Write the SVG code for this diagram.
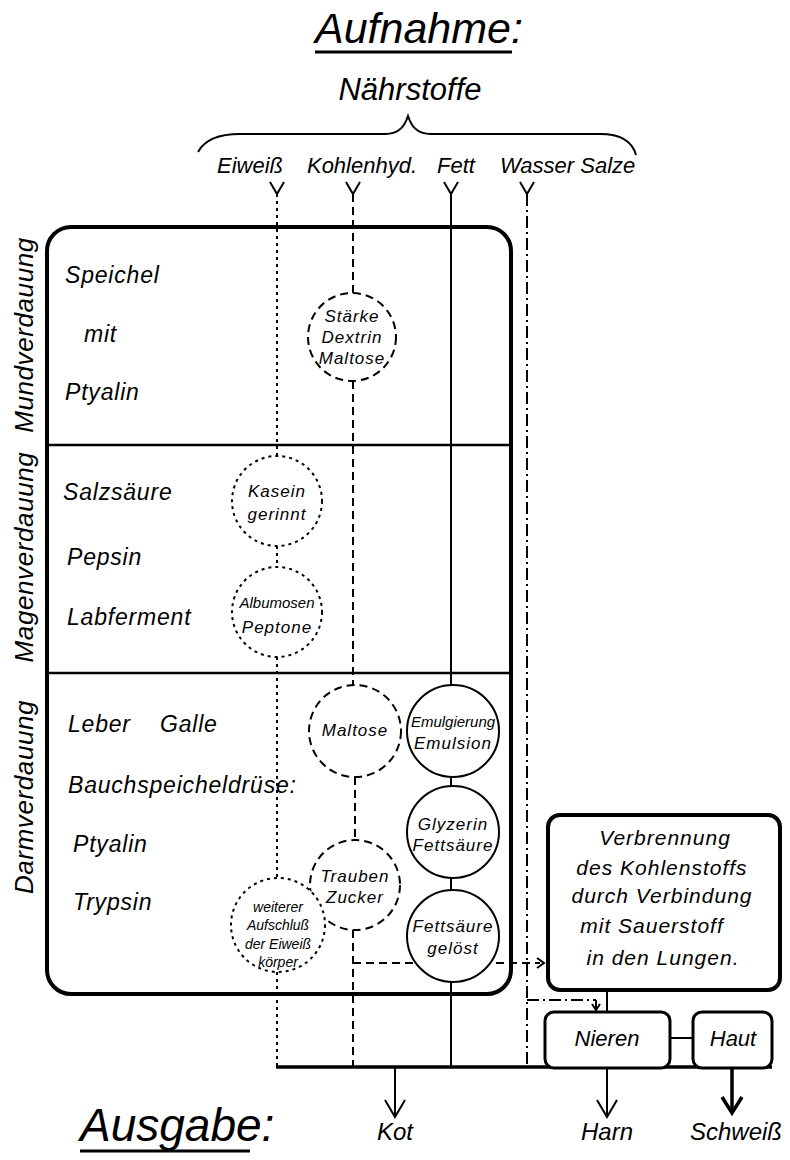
<svg xmlns="http://www.w3.org/2000/svg" width="790" height="1160" viewBox="0 0 790 1160">
<style>
text{font-family:"Liberation Sans",Arial,sans-serif;font-style:italic;fill:#000}
.h1{font-size:43px}
.h2{font-size:31px}
.lb{font-size:22px}
.lo{font-size:24px}
.lt{font-size:23px;letter-spacing:0.8px}
.rot{font-size:26px;letter-spacing:0.6px}
.c{font-size:17px;text-anchor:middle;letter-spacing:1px}
.cn{font-size:15px;text-anchor:middle}
.cs{font-size:14px;text-anchor:middle}
.bx{font-size:21px;text-anchor:middle;letter-spacing:1px}
.m{text-anchor:middle}
.thin{fill:none;stroke:#000;stroke-width:2}
.thick{fill:none;stroke:#000;stroke-width:4}
.dot{fill:none;stroke:#000;stroke-width:2;stroke-dasharray:3 4}
.dash{fill:none;stroke:#000;stroke-width:2;stroke-dasharray:8 5}
.dd{fill:none;stroke:#000;stroke-width:2;stroke-dasharray:12 4 2 4}
.cdot{fill:#fff;stroke:#000;stroke-width:2;stroke-dasharray:3 4}
.cdash{fill:#fff;stroke:#000;stroke-width:2;stroke-dasharray:8 5}
.csol{fill:#fff;stroke:#000;stroke-width:2}
</style>
<rect width="790" height="1160" fill="#fff"/>

<g id="title">
<text class="h1" x="315" y="43">Aufnahme:</text>
<line x1="315" y1="52" x2="512" y2="52" stroke="#000" stroke-width="3"/>
<text class="h2 m" x="410" y="100">Nährstoffe</text>
<path class="thin" stroke-width="2.5" d="M198,152 C205,139 220,134 240,134 L385,134 C400,134 405,125 408,116 C411,125 416,134 431,134 L600,134 C620,134 632,140 636,155"/>
<text class="lb m" x="250" y="173">Eiweiß</text>
<text class="lb m" x="362" y="173">Kohlenhyd.</text>
<text class="lb m" x="456" y="173">Fett</text>
<text class="lb" x="500" y="173">Wasser Salze</text>
</g>

<g id="stage-box">
<rect x="47" y="227" width="464" height="767" rx="24" class="thick"/>
<line x1="47" y1="445" x2="511" y2="445" stroke="#000" stroke-width="2.5"/>
<line x1="47" y1="673" x2="511" y2="673" stroke="#000" stroke-width="2.5"/>
<text class="rot m" transform="translate(33,335) rotate(-90)">Mundverdauung</text>
<text class="rot m" transform="translate(33,557) rotate(-90)">Magenverdauung</text>
<text class="rot m" transform="translate(33,797) rotate(-90)">Darmverdauung</text>
<text class="lt" x="65" y="283">Speichel</text>
<text class="lt" x="84" y="342">mit</text>
<text class="lt" x="65" y="400">Ptyalin</text>
<text class="lt" x="63" y="500">Salzsäure</text>
<text class="lt" x="67" y="565">Pepsin</text>
<text class="lt" x="67" y="625">Labferment</text>
<text class="lt" x="68" y="732">Leber</text>
<text class="lt" x="160" y="732">Galle</text>
<text class="lt" x="68" y="793">Bauchspeicheldrüse:</text>
<text class="lt" x="73" y="852">Ptyalin</text>
<text class="lt" x="73" y="910">Trypsin</text>
</g>

<g id="connectors">
<path class="thin" d="M270,182 L277,194 L284,182"/>
<line class="dot" x1="277" y1="194" x2="277" y2="456"/>
<line class="dot" x1="277" y1="546" x2="277" y2="567"/>
<line class="dot" x1="277" y1="657" x2="277" y2="878"/>
<line class="dot" x1="277" y1="972" x2="277" y2="1067"/>
<path class="thin" d="M346,182 L353,194 L360,182"/>
<line class="dash" x1="353" y1="194" x2="353" y2="293"/>
<line class="dash" x1="353" y1="381" x2="353" y2="685"/>
<line class="dash" x1="355" y1="777" x2="355" y2="840"/>
<line class="dash" x1="353" y1="930" x2="353" y2="1067"/>
<line class="dash" x1="353" y1="963" x2="540" y2="963"/>
<path class="thin" d="M537,958 L544,963 L537,968"/>
<path class="thin" d="M444,182 L451,194 L458,182"/>
<line class="thin" x1="451" y1="194" x2="451" y2="1067"/>
<path class="thin" d="M520,182 L527,194 L534,182"/>
<line class="dd" x1="527" y1="194" x2="527" y2="1067"/>
<line class="dd" x1="527" y1="1000" x2="596" y2="1000"/>
<line class="thin" x1="596" y1="1000" x2="596" y2="1009"/>
<path class="thin" d="M592,1004 L596,1010 L600,1004"/>
<line class="thin" x1="607" y1="990" x2="607" y2="1012"/>
<line class="thin" x1="670" y1="1038" x2="693" y2="1038"/>
<line x1="276" y1="1067" x2="772" y2="1067" stroke="#000" stroke-width="3.5"/>
<line class="thin" x1="395" y1="1067" x2="395" y2="1116"/>
<path class="thin" d="M385,1100 L395,1117 L405,1100"/>
<line class="thin" x1="607" y1="1067" x2="607" y2="1116"/>
<path class="thin" d="M597,1100 L607,1117 L617,1100"/>
<line x1="732" y1="1067" x2="732" y2="1112" stroke="#000" stroke-width="3.5"/>
<path d="M722,1097 L732,1113 L742,1097" fill="none" stroke="#000" stroke-width="3.5"/>
</g>

<g id="n-staerke"><circle class="cdash" cx="352" cy="337" r="44"/>
<text class="c" x="352" y="322">Stärke</text><text class="c" x="352" y="343">Dextrin</text><text class="c" x="352" y="364">Maltose</text></g>

<g id="n-kasein"><circle class="cdot" cx="277" cy="501" r="45"/>
<text class="c" x="277" y="497">Kasein</text><text class="c" x="277" y="520">gerinnt</text></g>

<g id="n-albumosen"><circle class="cdot" cx="277" cy="612" r="45"/>
<text class="cn" x="277" y="608">Albumosen</text><text class="c" x="277" y="633">Peptone</text></g>

<g id="n-maltose"><circle class="cdash" cx="355" cy="731" r="46"/>
<text class="c" x="355" y="736">Maltose</text></g>

<g id="n-emulsion"><circle class="csol" cx="453" cy="731" r="46"/>
<text class="cn" x="453" y="727">Emulgierung</text><text class="c" x="453" y="749">Emulsion</text></g>

<g id="n-glyzerin"><circle class="csol" cx="453" cy="832" r="46"/>
<text class="c" x="453" y="830">Glyzerin</text><text class="c" x="453" y="851">Fettsäure</text></g>

<g id="n-trauben"><circle class="cdash" cx="355" cy="885" r="45"/>
<text class="c" x="355" y="882">Trauben</text><text class="c" x="355" y="903">Zucker</text></g>

<g id="n-fettsaeure"><circle class="csol" cx="453" cy="936" r="46"/>
<text class="c" x="453" y="932">Fettsäure</text><text class="c" x="453" y="954">gelöst</text></g>

<g id="n-weiterer"><circle class="cdot" cx="278" cy="925" r="47"/>
<text class="cs" x="278" y="912">weiterer</text><text class="cs" x="278" y="930">Aufschluß</text><text class="cs" x="278" y="949">der Eiweiß</text><text class="cs" x="278" y="967">körper</text></g>

<g id="n-verbrennung"><rect x="548" y="815" width="232" height="175" rx="12" class="thick"/>
<text class="bx" x="665" y="845">Verbrennung</text>
<text class="bx" x="662" y="875">des Kohlenstoffs</text>
<text class="bx" x="662" y="903">durch Verbindung</text>
<text class="bx" x="652" y="933">mit Sauerstoff</text>
<text class="bx" x="663" y="965">in den Lungen.</text></g>

<g id="n-nieren"><rect x="545" y="1012" width="125" height="56" rx="9" fill="#fff" stroke="#000" stroke-width="3"/>
<text class="lb m" x="607" y="1046">Nieren</text></g>

<g id="n-haut"><rect x="693" y="1012" width="79" height="56" rx="9" fill="#fff" stroke="#000" stroke-width="3"/>
<text class="lb m" x="733" y="1046">Haut</text></g>

<g id="output">
<text x="80" y="1141" font-size="46">Ausgabe:</text>
<line x1="80" y1="1151" x2="250" y2="1151" stroke="#000" stroke-width="3"/>
<text class="lo m" x="395" y="1140">Kot</text>
<text class="lo m" x="607" y="1140">Harn</text>
<text class="lo m" x="736" y="1140">Schweiß</text>
</g>
</svg>
